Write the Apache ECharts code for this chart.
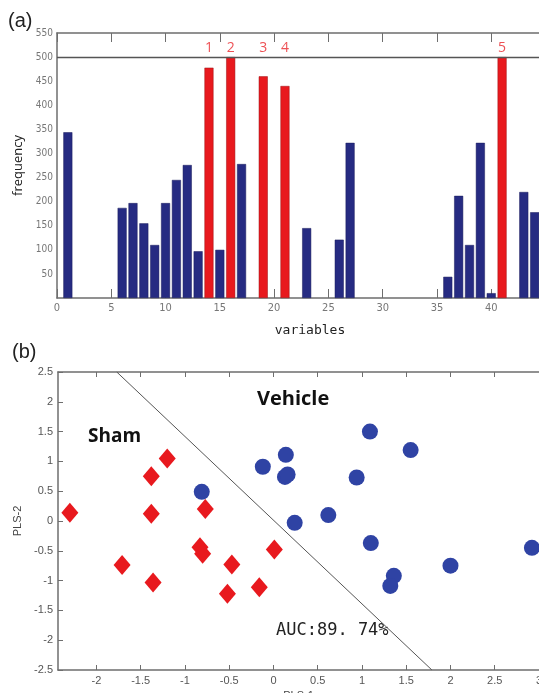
<!DOCTYPE html>
<html>
<head>
<meta charset="utf-8">
<script src="https://cdn.jsdelivr.net/npm/echarts@6/dist/echarts.min.js"></script>
<style>
  html, body { margin: 0; padding: 0; background: #fff; }
  #chart { width: 539px; height: 693px; }
</style>
</head>
<body>
<div id="chart"></div>
<script>
// (a) variable selection frequency
const blueVars = [1, 6, 7, 8, 9, 10, 11, 12, 13, 15, 17, 23, 26, 27, 36, 37, 38, 39, 40, 43, 44];
const blueFreq = [344, 187, 197, 155, 110, 197, 245, 276, 97, 100, 278, 145, 121, 322, 44, 212, 110, 322, 10, 220, 178];
const redVars = [14, 16, 19, 21, 41];
const redFreq = [478, 500, 460, 440, 500];
const redTags = ['1', '2', '3', '4', '5'];
const freqThreshold = 500;

// (b) PLS score plot
const shamX = [-1.2, -1.38, -2.3, -1.38, -0.77, -1.71, -1.36, -0.83, -0.8, -0.47, -0.52, -0.16, 0.01];
const shamY = [1.05, 0.75, 0.14, 0.12, 0.2, -0.74, -1.03, -0.44, -0.55, -0.73, -1.22, -1.11, -0.48];
const vehicleX = [-0.81, -0.12, 1.09, 1.55, 0.14, 0.13, 0.16, 0.94, 0.62, 0.24, 1.1, 1.36, 1.32, 2.0, 2.92];
const vehicleY = [0.49, 0.91, 1.5, 1.19, 1.11, 0.74, 0.78, 0.73, 0.1, -0.03, -0.37, -0.92, -1.09, -0.75, -0.45];
const boundaryX = [-1.77, 1.79];
const boundaryY = [2.5, -2.5];
const plsTicks = [-2, -1.5, -1, -0.5, 0, 0.5, 1, 1.5, 2, 2.5, 3];

const zip = (xs, ys) => xs.map((x, i) => [x, ys[i]]);

const axisGray = '#6e6e6e';
const navy = '#262b82';
const red = '#e8191e';
const narrow = "'Liberation Sans Narrow', 'DejaVu Sans Condensed', sans-serif";

const chart = echarts.init(document.getElementById('chart'), null, {renderer: 'canvas'});

const frameLine = {onZero: false, lineStyle: {color: axisGray, width: 1.5}};

chart.setOption({
  animation: false,
  backgroundColor: '#fff',
  grid: [
    {left: 57, right: 0, top: 33, height: 265, outerBoundsMode: 'none'},
    {left: 58, right: 0, top: 372, height: 298, outerBoundsMode: 'none'}
  ],
  xAxis: [
    {
      gridIndex: 0, type: 'value', min: 0, max: 44.4, interval: 5,
      axisLine: frameLine,
      axisTick: {inside: true, length: 9, lineStyle: {color: axisGray}},
      axisLabel: {color: '#777', fontFamily: narrow, fontSize: 11, showMaxLabel: false, margin: 5},
      splitLine: {show: false},
      name: 'variables', nameLocation: 'middle', nameGap: 26,
      nameTextStyle: {fontFamily: 'DejaVu Sans Mono', fontSize: 13, color: '#222', padding: [0, 0, 0, 24]}
    },
    {
      gridIndex: 0, type: 'value', position: 'top', min: 0, max: 44.4, interval: 5,
      axisLine: frameLine,
      axisTick: {inside: true, length: 9, lineStyle: {color: axisGray}},
      axisLabel: {show: false}, splitLine: {show: false}
    },
    {
      gridIndex: 1, type: 'value', min: -2.434, max: 3.0,
      axisLine: frameLine,
      axisTick: {inside: true, length: 5, customValues: plsTicks, lineStyle: {color: axisGray}},
      axisLabel: {customValues: plsTicks, color: '#555', fontSize: 11, fontFamily: 'Liberation Sans', margin: 5},
      splitLine: {show: false},
      name: 'PLS-1', nameLocation: 'middle', nameGap: 20,
      nameTextStyle: {fontSize: 11, color: '#444', fontFamily: 'Liberation Sans'}
    },
    {
      gridIndex: 1, type: 'value', position: 'top', min: -2.434, max: 3.0,
      axisLine: frameLine,
      axisTick: {inside: true, length: 5, customValues: plsTicks, lineStyle: {color: axisGray}},
      axisLabel: {show: false}, splitLine: {show: false}
    }
  ],
  yAxis: [
    {
      gridIndex: 0, type: 'value', min: 0, max: 550, interval: 50,
      axisLine: {show: true, onZero: false, lineStyle: {color: axisGray, width: 1.5}},
      axisTick: {show: false},
      axisLabel: {color: '#777', fontFamily: narrow, fontSize: 10, showMinLabel: false, margin: 4},
      splitLine: {show: false},
      name: 'frequency', nameLocation: 'middle', nameGap: 26,
      nameTextStyle: {fontSize: 13, color: '#222', fontFamily: 'Open Sans'}
    },
    {
      gridIndex: 1, type: 'value', min: -2.5, max: 2.5, interval: 0.5,
      axisLine: {show: true, onZero: false, lineStyle: {color: axisGray, width: 1.5}},
      axisTick: {inside: true, length: 5, lineStyle: {color: axisGray}},
      axisLabel: {color: '#555', fontSize: 11, fontFamily: 'Liberation Sans', margin: 5},
      splitLine: {show: false},
      name: 'PLS-2', nameLocation: 'middle', nameGap: 28,
      nameTextStyle: {fontSize: 11, color: '#444', fontFamily: 'Liberation Sans'}
    },
    {
      gridIndex: 1, type: 'value', position: 'right', min: -2.5, max: 2.5, interval: 0.5,
      axisLine: {show: true, onZero: false, lineStyle: {color: '#bbb', width: 1}},
      axisTick: {show: false}, axisLabel: {show: false}, splitLine: {show: false}
    }
  ],
  series: [
    {
      type: 'bar', xAxisIndex: 0, yAxisIndex: 0, barWidth: 9, barGap: '-100%',
      data: zip(blueVars, blueFreq),
      itemStyle: {color: navy, borderColor: '#1a1d5c', borderWidth: 0.5},
      markLine: {
        silent: true, symbol: 'none', label: {show: false},
        lineStyle: {color: '#555', width: 1.3, type: 'solid'},
        data: [{yAxis: freqThreshold}]
      }
    },
    {
      type: 'bar', xAxisIndex: 0, yAxisIndex: 0, barWidth: 9, barGap: '-100%',
      data: zip(redVars, redFreq),
      itemStyle: {color: red, borderColor: '#9a1215', borderWidth: 0.5}
    },
    {
      type: 'scatter', xAxisIndex: 0, yAxisIndex: 0, symbolSize: 0,
      data: redVars.map((v, i) => ({value: [v, 519], label: {formatter: redTags[i]}})),
      label: {show: true, position: 'inside', color: '#e8262a', fontSize: 14, fontFamily: 'Open Sans'}
    },
    {
      type: 'line', xAxisIndex: 2, yAxisIndex: 1, showSymbol: false, silent: true,
      data: zip(boundaryX, boundaryY),
      lineStyle: {color: '#555', width: 1}
    },
    {
      name: 'Sham', type: 'scatter', xAxisIndex: 2, yAxisIndex: 1,
      symbol: 'diamond', symbolSize: [17, 20],
      data: zip(shamX, shamY),
      itemStyle: {color: red, opacity: 1}
    },
    {
      name: 'Vehicle', type: 'scatter', xAxisIndex: 2, yAxisIndex: 1,
      symbol: 'circle', symbolSize: 16,
      data: zip(vehicleX, vehicleY),
      itemStyle: {color: '#2f43a4', opacity: 1}
    }
  ],
  graphic: [
    {type: 'text', left: 8, top: 11, style: {text: '(a)', fontSize: 20, fontFamily: 'Liberation Sans', fill: '#222'}},
    {type: 'text', left: 12, top: 342, style: {text: '(b)', fontSize: 20, fontFamily: 'Liberation Sans', fill: '#222'}},
    {type: 'text', left: 88, top: 427, style: {text: 'Sham', fontSize: 19, fontWeight: 'bold', fontFamily: 'Open Sans', fill: '#111'}},
    {type: 'text', left: 257, top: 389, style: {text: 'Vehicle', fontSize: 20, fontWeight: 'bold', fontFamily: 'Open Sans', fill: '#111'}},
    {type: 'text', left: 276, top: 622, style: {text: 'AUC:89. 74%', fontSize: 17, fontFamily: 'DejaVu Sans Mono', fill: '#222'}}
  ]
});
</script>
</body>
</html>
